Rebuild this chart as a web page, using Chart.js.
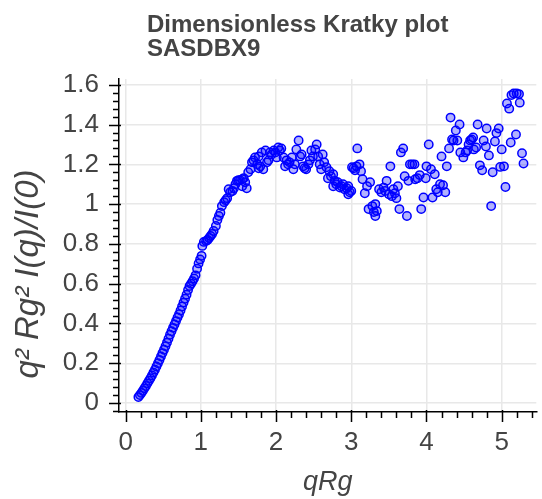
<!DOCTYPE html>
<html>
<head>
<meta charset="utf-8">
<script src="https://cdn.jsdelivr.net/npm/chart.js@4.4.0/dist/chart.umd.min.js"></script>
<style>
  html, body { margin: 0; padding: 0; background: #fff; }
  #wrap { width: 542px; height: 499px; }
</style>
</head>
<body>
<div id="wrap"><canvas id="myChart" width="542" height="499"></canvas></div>
<script>
// chart text
const titleLines = ['Dimensionless Kratky plot', 'SASDBX9'];
const xAxisLabel = 'qRg';
const yAxisLabel = 'q\u00B2 Rg\u00B2 I(q)/I(0)';

// axis ticks
const xTickValues = [0, 1, 2, 3, 4, 5];
const yTickValues = [0, 0.2, 0.4, 0.6, 0.8, 1, 1.2, 1.4, 1.6];
const yTickLabels = ['0', '0.2', '0.4', '0.6', '0.8', '1', '1.2', '1.4', '1.6'];

// data
const qRg = [
  0.17, 0.19, 0.21, 0.23, 0.25, 0.27, 0.29, 0.31, 0.33, 0.35,
  0.37, 0.39, 0.41, 0.43, 0.45, 0.47, 0.49, 0.51, 0.53, 0.55,
  0.57, 0.59, 0.61, 0.63, 0.65, 0.67, 0.69, 0.71, 0.73, 0.75,
  0.77, 0.79, 0.81, 0.83, 0.85, 0.87, 0.89, 0.91, 0.93, 0.95,
  0.97, 0.99, 1.01, 1.02, 1.04, 1.07, 1.09, 1.11, 1.13, 1.15,
  1.17, 1.20, 1.22, 1.24, 1.26, 1.28, 1.31, 1.33, 1.35, 1.37,
  1.39, 1.42, 1.44, 1.46, 1.48, 1.50, 1.52, 1.55, 1.55, 1.57,
  1.59, 1.61, 1.63, 1.66, 1.68, 1.70, 1.72, 1.75, 1.77, 1.77,
  1.79, 1.81, 1.83, 1.86, 1.88, 1.90, 1.92, 1.94, 1.97, 1.99,
  2.01, 2.03, 2.05, 2.07, 2.10, 2.12, 2.14, 2.16, 2.18, 2.21,
  2.23, 2.25, 2.27, 2.30, 2.32, 2.34, 2.36, 2.38, 2.40, 2.43,
  2.45, 2.47, 2.49, 2.52, 2.54, 2.56, 2.58, 2.60, 2.62, 2.64,
  2.67, 2.69, 2.71, 2.73, 2.76, 2.76, 2.78, 2.80, 2.82, 2.85,
  2.87, 2.89, 2.91, 2.94, 2.96, 2.96, 2.98, 3.00, 3.01, 3.03,
  3.05, 3.07, 3.08, 3.11, 3.13, 3.15, 3.18, 3.21, 3.23, 3.25,
  3.28, 3.30, 3.32, 3.32, 3.34, 3.37, 3.40, 3.43, 3.45, 3.47,
  3.50, 3.52, 3.54, 3.56, 3.58, 3.60, 3.62, 3.64, 3.66, 3.69,
  3.71, 3.74, 3.76, 3.78, 3.81, 3.84, 3.85, 3.88, 3.91, 3.93,
  3.96, 3.99, 4.00, 4.03, 4.06, 4.08, 4.11, 4.13, 4.15, 4.18,
  4.20, 4.22, 4.25, 4.27, 4.30, 4.32, 4.34, 4.36, 4.39, 4.41,
  4.44, 4.45, 4.49, 4.52, 4.54, 4.56, 4.58, 4.60, 4.62, 4.63,
  4.66, 4.68, 4.71, 4.74, 4.76, 4.79, 4.80, 4.83, 4.86, 4.88,
  4.91, 4.93, 4.96, 4.98, 5.00, 5.03, 5.05, 5.07, 5.10, 5.12,
  5.13, 5.16, 5.19, 5.20, 5.23, 5.24, 5.27, 5.29
];
const kratky = [
  0.030, 0.040, 0.051, 0.062, 0.074, 0.086, 0.099, 0.112, 0.125, 0.139,
  0.153, 0.168, 0.184, 0.200, 0.217, 0.234, 0.251, 0.268, 0.286, 0.304,
  0.323, 0.343, 0.361, 0.378, 0.395, 0.412, 0.430, 0.447, 0.465, 0.485,
  0.505, 0.524, 0.545, 0.568, 0.588, 0.600, 0.612, 0.626, 0.642, 0.675,
  0.702, 0.722, 0.740, 0.790, 0.810, 0.815, 0.820, 0.830, 0.840, 0.850,
  0.865, 0.890, 0.920, 0.940, 0.957, 0.990, 1.010, 1.020, 1.030, 1.075,
  1.060, 1.066, 1.080, 1.100, 1.117, 1.120, 1.120, 1.125, 1.090, 1.130,
  1.110, 1.080, 1.160, 1.175, 1.210, 1.220, 1.235, 1.200, 1.240, 1.180,
  1.190, 1.260, 1.175, 1.270, 1.210, 1.220, 1.260, 1.250, 1.270, 1.260,
  1.235, 1.285, 1.270, 1.280, 1.235, 1.190, 1.220, 1.200, 1.210, 1.235,
  1.175, 1.200, 1.275, 1.320, 1.240, 1.250, 1.190, 1.180, 1.175, 1.200,
  1.220, 1.270, 1.240, 1.275, 1.300, 1.240, 1.200, 1.175, 1.250, 1.210,
  1.185, 1.130, 1.165, 1.140, 1.150, 1.090, 1.117, 1.100, 1.110, 1.083,
  1.090, 1.100, 1.075, 1.080, 1.090, 1.050, 1.060, 1.066, 1.185, 1.180,
  1.170, 1.190, 1.280, 1.200, 1.165, 1.125, 1.055, 1.090, 0.975, 1.110,
  0.990, 0.960, 1.000, 0.940, 0.965, 1.075, 1.060, 1.083, 1.066, 1.117,
  1.050, 1.190, 1.040, 1.075, 1.055, 1.030, 1.090, 0.975, 1.260, 1.280,
  1.140, 0.940, 1.117, 1.200, 1.200, 1.200, 1.125, 1.130, 1.146, 0.975,
  1.033, 1.130, 1.190, 1.300, 1.175, 1.033, 1.150, 1.075, 1.060, 1.100,
  1.240, 1.095, 1.060, 1.190, 1.280, 1.435, 1.325, 1.320, 1.370, 1.320,
  1.400, 1.260, 1.235, 1.260, 1.270, 1.300, 1.320, 1.325, 1.335, 1.275,
  1.285, 1.400, 1.195, 1.170, 1.320, 1.290, 1.380, 1.245, 0.990, 1.160,
  1.315, 1.357, 1.380, 1.187, 1.275, 1.190, 1.086, 1.506, 1.480, 1.310,
  1.548, 1.556, 1.350, 1.556, 1.553, 1.510, 1.256, 1.204
];

const textColor = '#444444';
const fontFamily = '"Liberation Sans", Arial, Helvetica, sans-serif';

// title and y label drawn at the offsets used in the original figure
const textPlugin = {
  id: 'placedText',
  afterDraw(chart) {
    const ctx = chart.ctx;
    ctx.save();
    ctx.fillStyle = textColor;
    ctx.font = 'bold 24px ' + fontFamily;
    ctx.textBaseline = 'alphabetic';
    ctx.textAlign = 'left';
    ctx.fillText(titleLines[0], 147, 32);
    ctx.fillText(titleLines[1], 147, 56);

    ctx.translate(29, 274);
    ctx.rotate(-Math.PI / 2);
    ctx.font = 'italic 33px ' + fontFamily;
    ctx.textAlign = 'center';
    ctx.textBaseline = 'middle';
    ctx.fillText(yAxisLabel, 0, 0);
    ctx.restore();
  }
};

// major and minor tick marks on both axes
const tickMarks = {
  id: 'tickMarks',
  afterDraw(chart) {
    const ctx = chart.ctx;
    const xs = chart.scales.x, ys = chart.scales.y;
    const area = chart.chartArea;
    ctx.save();
    ctx.strokeStyle = '#000';
    ctx.lineWidth = 1.5;
    ctx.beginPath();
    for (let i = 0; i <= 27; i++) {
      const px = Math.round(xs.getPixelForValue(i * 0.2)) + 0.5;
      if (px > area.right) break;
      const major = i % 5 === 0;
      ctx.moveTo(px, area.bottom - (major ? 2 : 0));
      ctx.lineTo(px, area.bottom + (major ? 10 : 6));
    }
    for (let i = -1; i <= 40; i++) {
      const py = Math.round(ys.getPixelForValue(i * 0.04)) + 0.5;
      const major = i % 5 === 0;
      ctx.moveTo(area.left + (major ? 2 : 0), py);
      ctx.lineTo(area.left - (major ? 10 : 6), py);
    }
    ctx.stroke();
    ctx.restore();
  }
};

function createChart() {
  const points = qRg.map((q, i) => ({ x: q, y: kratky[i] }));
  const ctx = document.getElementById('myChart').getContext('2d');
  new Chart(ctx, {
    type: 'scatter',
    data: {
      datasets: [{
        data: points,
        pointRadius: 4.2,
        pointHoverRadius: 4.2,
        borderWidth: 1.5,
        borderColor: '#0000ff',
        backgroundColor: 'rgba(0, 0, 255, 0.3)'
      }]
    },
    options: {
      responsive: false,
      animation: false,
      devicePixelRatio: 1,
      layout: { padding: { top: 79, right: 0, left: 0, bottom: 0 } },
      plugins: {
        legend: { display: false },
        tooltip: { enabled: false },
        title: { display: false }
      },
      scales: {
        x: {
          type: 'linear',
          min: -0.088,
          max: 5.46,
          afterBuildTicks: (scale) => { scale.ticks = xTickValues.map(v => ({ value: v })); },
          afterFit: (scale) => { scale.height = 87; },
          grid: { color: '#e8e8e8', lineWidth: 1.5, drawTicks: false },
          border: { display: true, color: '#000', width: 1.5 },
          ticks: {
            color: textColor,
            padding: 15,
            font: { family: fontFamily, size: 26 },
            maxRotation: 0
          },
          title: {
            display: true,
            text: xAxisLabel,
            color: textColor,
            font: { family: fontFamily, size: 27, style: 'italic' },
            padding: { top: 0, bottom: 0 }
          }
        },
        y: {
          type: 'linear',
          min: -0.045,
          max: 1.629,
          afterBuildTicks: (scale) => { scale.ticks = yTickValues.map(v => ({ value: v })); },
          afterFit: (scale) => { scale.width = 119; },
          grid: { color: '#e8e8e8', lineWidth: 1.5, drawTicks: false },
          border: { display: true, color: '#000', width: 1.5 },
          ticks: {
            color: textColor,
            padding: 20,
            font: { family: fontFamily, size: 26 },
            callback: (value) => yTickLabels[yTickValues.indexOf(value)]
          },
          title: { display: false }
        }
      }
    },
    plugins: [textPlugin, tickMarks]
  });
}

window.onload = createChart;
</script>
</body>
</html>
